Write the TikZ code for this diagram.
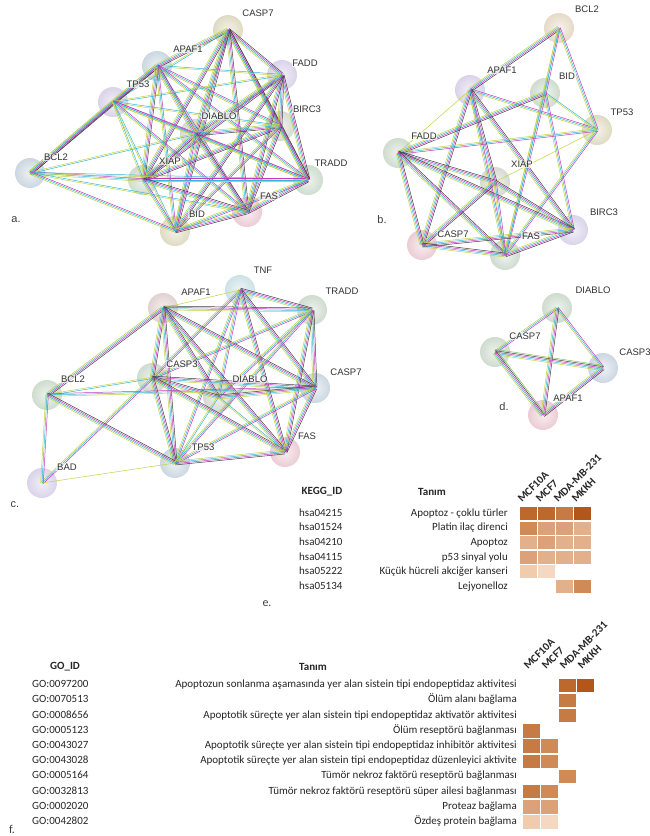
\documentclass[tikz,border=0pt]{standalone}
\usepackage{fontspec}
\newfontfamily\netfont{Liberation Sans}
\newfontfamily\tabfont{Carlito}
\usetikzlibrary{calc}
% link colours
\definecolor{ctxt}{HTML}{C3D43F}
\definecolor{cdb}{HTML}{35B9D4}
\definecolor{cexp}{HTML}{C23CC2}
\definecolor{ccoex}{HTML}{404040}
\definecolor{cnb}{HTML}{7FBF5A}
% ball colours
\definecolor{bolive}{HTML}{DEDBC2}
\definecolor{bblue}{HTML}{CCD7E1}
\definecolor{bpurple}{HTML}{DAD3EA}
\definecolor{bgray}{HTML}{D7DAD2}
\definecolor{bgreen}{HTML}{CFDCCF}
\definecolor{bpink}{HTML}{EBCCD5}
\definecolor{bbeige}{HTML}{E6DAC8}
\definecolor{bcyan}{HTML}{CDE2E6}
\definecolor{bpinkgray}{HTML}{E2D2D2}
% heat colours
\definecolor{hA}{HTML}{B3561A}
\definecolor{hB}{HTML}{BD682C}
\definecolor{hC}{HTML}{C77B44}
\definecolor{hD}{HTML}{CF8A56}
\definecolor{hE}{HTML}{DCA179}
\definecolor{hF}{HTML}{E3B08C}
\definecolor{hH}{HTML}{F0CBAE}
\definecolor{hI}{HTML}{F5D8C1}
\tikzset{
  ball/.style={circle,minimum size=30pt,inner sep=0pt,inner color=#1!35,outer color=#1},
  lab/.style={font=\netfont\fontsize{9.5}{10}\selectfont,text=black!80,fill=white,fill opacity=0.65,text opacity=1,inner sep=0.8pt},
  panel/.style={font=\netfont\fontsize{11}{12}\selectfont,text=black!75},
  link/.style={line width=0.5pt},
  thead/.style={font=\tabfont\bfseries\fontsize{11}{13}\selectfont,text=black!85},
  trow/.style={font=\tabfont\fontsize{11}{13}\selectfont,text=black!85,inner sep=0pt,text height=8pt,text depth=2.5pt},
  colhead/.style={font=\tabfont\bfseries\fontsize{11}{13}\selectfont,text=black!85,rotate=45,anchor=base west,inner sep=0pt}
}
\begin{document}
\begin{tikzpicture}[x=1pt,y=-1pt]
\useasboundingbox[fill=white] (0,0) rectangle (650,836);
\def\netnodes{a1/228/30/bolive/258/13/CASP7, a2/157/66/bblue/188/49/APAF1, a3/282/75/bpurple/305/63/FADD, a4/113/102/bpurple/138/84/TP53, a5/280/126/bgray/307/109/BIRC3, a6/195/134/bgray/219/116/DIABLO, a7/30/173/bblue/56/157/BCL2, a8/143/180/bgreen/170/161/XIAP, a9/308/180/bgreen/331/163/TRADD, a10/247/212/bpink/269/196/FAS, a11/175/231/bolive/197/214/BID,
 b1/559/28/bbeige/587/9/BCL2, b2/470/90/bpurple/502/70/APAF1, b3/545/93/bgreen/567/76/BID, b4/597/130/bolive/622/112/TP53, b5/398/153/bgreen/424/136/FADD, b6/495/182/bgray/522/164/XIAP, b7/573/230/bpurple/604/212/BIRC3, b8/422/245/bpink/453/234/CASP7, b9/505/255/bgreen/531/236/FAS,
 c1/240/290/bcyan/263/270/TNF, c2/163/308/bpinkgray/196/292/APAF1, c3/312/310/bgreen/342/291/TRADD, c4/152/378/bgreen/182/364/CASP3, c5/47/395/bgreen/73/379/BCL2, c6/218/397/bgray/250/379/DIABLO, c7/315/388/bblue/346/372/CASP7, c8/285/452/bpink/307/436/FAS, c9/175/463/bblue/203/447/TP53, c10/42/483/bpurple/67/467/BAD,
 d1/557/308/bgreen/593/290/DIABLO, d2/495/352/bgreen/525/336/CASP7, d3/603/368/bblue/635/352/CASP3, d4/543/415/bpink/568/398/APAF1}
% Balls
\foreach \nm/\x/\y/\col/\lx/\ly/\txt in \netnodes
  \node[ball=\col] (\nm) at (\x,\y) {};
% Links a
% Links b
% Links c
% Links d
\foreach \p/\q/\n in {a1/a2/4, a1/a3/4, a1/a4/2, a1/a5/4, a1/a6/4, a1/a8/4, a1/a9/4, a1/a10/4, a1/a11/4,
  a2/a3/2, a2/a4/4, a2/a5/3, a2/a6/4, a2/a7/4, a2/a8/4, a2/a9/3, a2/a10/3, a2/a11/3,
  a3/a4/2, a3/a5/4, a3/a6/4, a3/a8/4, a3/a9/4, a3/a10/4, a3/a11/4,
  a4/a5/2, a4/a6/3, a4/a7/4, a4/a8/2, a4/a9/3, a4/a10/3, a4/a11/2,
  a5/a6/4, a5/a8/4, a5/a9/4, a5/a10/4, a5/a11/3,
  a6/a7/2, a6/a8/4, a6/a9/3, a6/a10/4, a6/a11/3,
  a7/a8/3, a7/a9/2, a7/a10/2, a7/a11/3,
  a8/a9/3, a8/a10/4, a8/a11/3, a9/a10/4, a9/a11/3, a10/a11/4,
  b1/b2/4, b1/b3/3, b1/b4/3, b1/b9/2,
  b2/b4/3, b2/b5/1, b2/b6/4, b2/b7/4, b2/b8/4, b2/b9/3,
  b3/b4/2, b3/b5/4, b3/b7/3, b3/b9/3, b4/b5/3, b4/b6/1, b4/b9/3,
  b5/b6/4, b5/b7/4, b5/b8/4, b5/b9/4, b6/b7/4, b6/b8/4, b6/b9/3,
  b7/b8/4, b7/b9/4, b8/b9/4,
  c1/c2/1, c1/c3/4, c1/c4/3, c1/c6/3, c1/c7/4, c1/c8/4, c1/c9/3,
  c2/c3/4, c2/c4/4, c2/c5/4, c2/c6/4, c2/c7/4, c2/c8/4, c2/c9/4,
  c3/c4/3, c3/c6/3, c3/c7/4, c3/c8/4, c3/c9/3,
  c4/c5/2, c4/c6/4, c4/c7/4, c4/c8/4, c4/c9/4, c4/c10/3,
  c5/c7/3, c5/c9/4, c5/c10/3, c6/c7/4, c6/c8/2, c6/c9/2,
  c7/c8/4, c7/c9/3, c8/c9/4, c9/c10/1,
  d1/d2/3, d1/d3/3, d1/d4/4, d2/d3/5, d2/d4/5, d3/d4/4}{
  \foreach \col [count=\i] in {ctxt,cdb,cexp,ccoex,cnb}{
    \ifnum\i>\n\relax\else
      \pgfmathsetmacro\off{(\i-(\n+1)/2)*1.3}
      \draw[link,\col] ($(\p)!\off pt!90:(\q)$) -- ($(\q)!\off pt!-90:(\p)$);
    \fi}}
% Labels
\foreach \nm/\x/\y/\col/\lx/\ly/\txt in \netnodes
  \node[lab] (\nm-lab) at (\lx,\ly) {\txt};
\node[panel] (pa) at (16,220) {a.};
\node[panel] (pb) at (382,220) {b.};
\node[panel] (pc) at (15,505) {c.};
\node[panel] (pd) at (504,407) {d.};
% Table e
\node[thead] (e-hid) at (322,492) {KEGG\_ID};
\node[thead] (e-htx) at (432,492) {Tanım};
\foreach \h [count=\k] in {MCF10A,MCF7,MDA-MB-231,MKKH}
  \node[colhead] (e-col\k) at (504+18*\k,503) {\h};
\foreach \id/\tx [count=\r] in {hsa04215/Apoptoz - çoklu türler, hsa01524/Platin ilaç direnci, hsa04210/Apoptoz, hsa04115/p53 sinyal yolu, hsa05222/Küçük hücreli akciğer kanseri, hsa05134/Lejyonelloz}{
  \node[trow,anchor=west] (e-id\r) at (299,498.9+14.6*\r) {\id};
  \node[trow,anchor=east] (e-tx\r) at (508,498.9+14.6*\r) {\tx};}
\foreach \r/\k/\col in {1/1/hB, 1/2/hB, 1/3/hC, 1/4/hA, 2/1/hD, 2/2/hE, 2/3/hE, 2/4/hF, 3/1/hF, 3/2/hE, 3/3/hF, 3/4/hF, 4/1/hE, 4/2/hF, 4/3/hF, 4/4/hF, 5/1/hH, 5/2/hI, 6/3/hF, 6/4/hD}
  \fill[\col] (502+18*\k,492.4+14.6*\r) rectangle +(16.5,13);
\node[panel,font=\tabfont\fontsize{12}{13}\selectfont] (pe) at (267,604) {e.};
% Table f
\node[thead] (f-hid) at (65,667) {GO\_ID};
\node[thead] (f-htx) at (313,667) {Tanım};
\foreach \h [count=\k] in {MCF10A,MCF7,MDA-MB-231,MKKH}
  \node[colhead] (f-col\k) at (510+18*\k,670) {\h};
\foreach \id/\tx [count=\r] in {GO:0097200/Apoptozun sonlanma aşamasında yer alan sistein tipi endopeptidaz aktivitesi, GO:0070513/Ölüm alanı bağlama, GO:0008656/Apoptotik süreçte yer alan sistein tipi endopeptidaz aktivatör aktivitesi, GO:0005123/Ölüm reseptörü bağlanması, GO:0043027/Apoptotik süreçte yer alan sistein tipi endopeptidaz inhibitör aktivitesi, GO:0043028/Apoptotik süreçte yer alan sistein tipi endopeptidaz düzenleyici aktivite, GO:0005164/Tümör nekroz faktörü reseptörü bağlanması, GO:0032813/Tümör nekroz faktörü reseptörü süper ailesi bağlanması, GO:0002020/Proteaz bağlama, GO:0042802/Özdeş protein bağlama}{
  \node[trow,anchor=west] (f-id\r) at (32,669.8+15.2*\r) {\id};
  \node[trow,anchor=east] (f-tx\r) at (517,669.8+15.2*\r) {\tx};}
\foreach \r/\k/\col in {1/3/hB, 1/4/hA, 2/3/hC, 3/3/hC, 4/1/hC, 5/1/hC, 5/2/hD, 6/1/hC, 6/2/hD, 7/3/hD, 8/1/hC, 8/2/hD, 9/1/hE, 9/2/hE, 10/1/hH, 10/2/hI}
  \fill[\col] (505+18*\k,663.3+15.2*\r) rectangle +(16.5,13.5);
\node[panel,font=\tabfont\fontsize{12}{13}\selectfont] (pf) at (12,829) {f.};
\end{tikzpicture}
\end{document}
